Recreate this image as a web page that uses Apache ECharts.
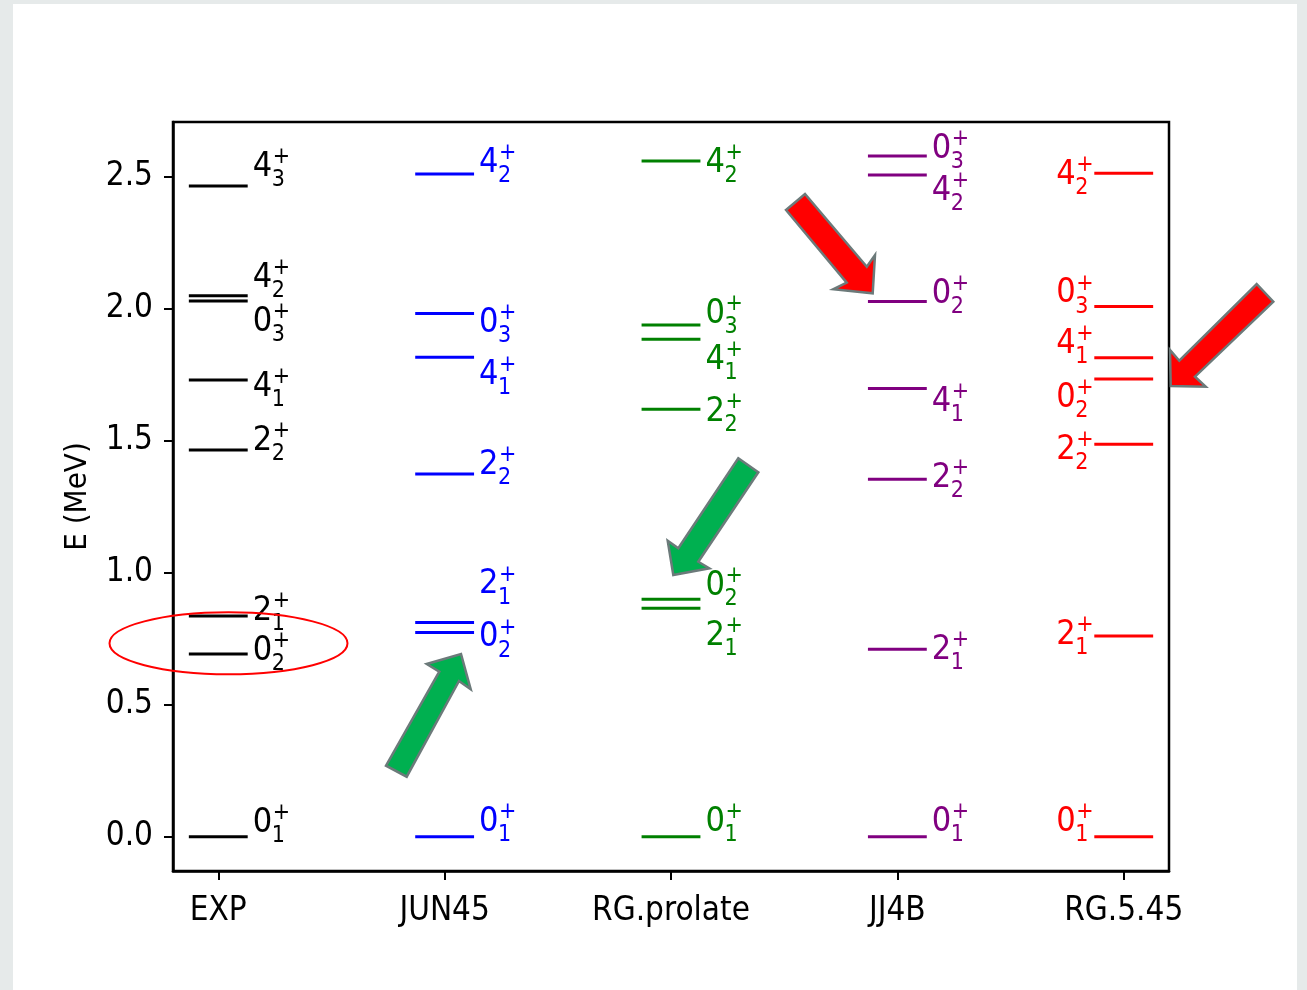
<!DOCTYPE html>
<html><head><meta charset="utf-8">
<script src="https://cdn.jsdelivr.net/npm/echarts@6/dist/echarts.min.js"></script>
<style>
html,body{margin:0;padding:0;width:1307px;height:990px;overflow:hidden;background:#e6eaea;}
#frame{position:absolute;left:13px;top:4px;width:1284px;height:986px;background:#fff;}
#chart{position:absolute;left:0;top:0;width:1307px;height:990px;}
</style></head><body>
<div id="frame"></div>
<div id="chart"></div>
<script>
// ---- data ----
const models = ['EXP', 'JUN45', 'RG.prolate', 'JJ4B', 'RG.5.45'];
const yTicks = [0, 0.5, 1.0, 1.5, 2.0, 2.5];

const expStates = ['0_1', '0_2', '2_1', '2_2', '4_1', '0_3', '4_2', '4_3'];
const expE      = [0.000, 0.692, 0.836, 1.465, 1.730, 2.029, 2.049, 2.465];

const jun45States = ['0_1', '0_2', '2_1', '2_2', '4_1', '0_3', '4_2'];
const jun45E      = [0.000, 0.773, 0.811, 1.374, 1.816, 1.982, 2.510];

const rgProlateStates = ['0_1', '2_1', '0_2', '2_2', '4_1', '0_3', '4_2'];
const rgProlateE      = [0.000, 0.865, 0.899, 1.619, 1.884, 1.938, 2.559];

const jj4bStates = ['0_1', '2_1', '2_2', '4_1', '0_2', '4_2', '0_3'];
const jj4bE      = [0.000, 0.710, 1.354, 1.698, 2.027, 2.506, 2.578];

const rg545States = ['0_1', '2_1', '2_2', '0_2', '4_1', '0_3', '4_2'];
const rg545E      = [0.000, 0.760, 1.486, 1.734, 1.814, 2.008, 2.513];

// ---- label layout (pixel shifts of each label's centre from its level line) ----
const expShift       = [-14, -3, -5, -9, 7, 21, -18, -19];
const jun45Shift     = [-15, 5, -38, -9, 18, 10, -11];
const rgProlateShift = [-15, 28, -13, 3, 21, -11, 2];
const jj4bShift      = [-15, 1, -1, 14, -7, 16, -7];
const rg545Shift     = [-15, -1, 6, 19, -14, -13, 2];

const FONT = "'DejaVu Sans Condensed', 'DejaVu Sans', sans-serif";
const HALF = 0.13;

function levelSeries(idx, states, energies, shifts, color, side) {
  return {
    type: 'custom',
    name: models[idx],
    coordinateSystem: 'cartesian2d',
    clip: false,
    silent: true,
    data: energies.map((e, k) => [idx, e, k]),
    encode: { x: 0, y: 1 },
    renderItem: function (params, api) {
      const xi = api.value(0);
      const e = api.value(1);
      const k = api.value(2);
      const p1 = api.coord([xi - HALF, e]);
      const p2 = api.coord([xi + HALF, e]);
      const y = p1[1];
      const parts = states[k].split('_');
      const cy = y + shifts[k];
      const x0 = side === 'right' ? p2[0] + 5 : p1[0] - 38;
      const txt = (t, x, yy, size) => ({
        type: 'text',
        style: { text: t, x: x, y: yy, fill: color, fontSize: size, fontFamily: FONT,
                 align: 'left', verticalAlign: 'middle', textAlign: 'left', textVerticalAlign: 'middle' }
      });
      return {
        type: 'group',
        children: [
          { type: 'line', shape: { x1: p1[0], y1: y, x2: p2[0], y2: y },
            style: { stroke: color, lineWidth: 3 } },
          txt(parts[0], x0, cy, 34),
          txt(parts[1], x0 + 19, cy + 13, 23),
          txt('+', x0 + 20, cy - 10, 23)
        ]
      };
    }
  };
}

const chart = echarts.init(document.getElementById('chart'), null, { renderer: 'canvas' });

const arrowStroke = '#6c7a7a';
chart.setOption({
  backgroundColor: 'transparent',
  animation: false,
  grid: { left: 173, right: 138, top: 122, bottom: 119, show: true,
          borderColor: '#000', borderWidth: 2.5, backgroundColor: '#fff' },
  xAxis: {
    type: 'value', min: -0.2, max: 4.2,
    splitLine: { show: false },
    axisLine: { show: true, onZero: false, lineStyle: { color: '#000', width: 2.5 } },
    axisTick: { show: true, customValues: [0, 1, 2, 3, 4], length: 9, lineStyle: { color: '#000', width: 2 } },
    axisLabel: { customValues: [0, 1, 2, 3, 4], formatter: v => models[Math.round(v)],
                 color: '#000', fontSize: 33, fontFamily: FONT, margin: 24 }
  },
  yAxis: {
    type: 'value', min: -0.13, max: 2.707,
    name: 'E (MeV)', nameLocation: 'middle', nameGap: 80, nameRotate: 90,
    nameTextStyle: { color: '#000', fontSize: 31, fontFamily: FONT },
    splitLine: { show: false },
    axisLine: { show: true, onZero: false, lineStyle: { color: '#000', width: 2.5 } },
    axisTick: { show: true, customValues: yTicks, length: 9, lineStyle: { color: '#000', width: 2 } },
    axisLabel: { customValues: yTicks, formatter: v => v.toFixed(1),
                 color: '#000', fontSize: 33, fontFamily: FONT, margin: 20, padding: [14, 0, 0, 0] }
  },
  series: [
    levelSeries(0, expStates, expE, expShift, '#000000', 'right'),
    levelSeries(1, jun45States, jun45E, jun45Shift, '#0000ff', 'right'),
    levelSeries(2, rgProlateStates, rgProlateE, rgProlateShift, '#008000', 'right'),
    levelSeries(3, jj4bStates, jj4bE, jj4bShift, '#800080', 'right'),
    levelSeries(4, rg545States, rg545E, rg545Shift, '#ff0000', 'left')
  ],
  graphic: [
    { type: 'ellipse', z: 100, shape: { cx: 228.5, cy: 643.3, rx: 119, ry: 31 },
      style: { fill: 'none', stroke: '#ff0000', lineWidth: 2 } },
    { type: 'polygon', z: 100,
      shape: { points: [[461,654],[470.7,689.3],[459,681],[406.7,776.7],[386,765.7],[439.3,671.7],[426.7,664]] },
      style: { fill: '#00b050', stroke: arrowStroke, lineWidth: 2.5 } },
    { type: 'polygon', z: 100,
      shape: { points: [[738.3,458.3],[758.3,472.3],[698.3,561.7],[709.3,568.3],[673.3,575],[667.7,540.7],[678.3,548.3]] },
      style: { fill: '#00b050', stroke: arrowStroke, lineWidth: 2.5 } },
    { type: 'polygon', z: 100,
      shape: { points: [[786,210],[805,194],[866.8,266.8],[875,255],[872.7,293.3],[833.3,289.3],[846.7,282.7]] },
      style: { fill: '#ff0000', stroke: arrowStroke, lineWidth: 2.5 } },
    { type: 'polygon', z: 100,
      shape: { points: [[1256.7,284],[1273.3,301.7],[1195,376.7],[1205.7,386.7],[1170.7,386],[1170,350],[1179.3,360.7]] },
      style: { fill: '#ff0000', stroke: arrowStroke, lineWidth: 2.5 } }
  ]
});
</script>
</body></html>
